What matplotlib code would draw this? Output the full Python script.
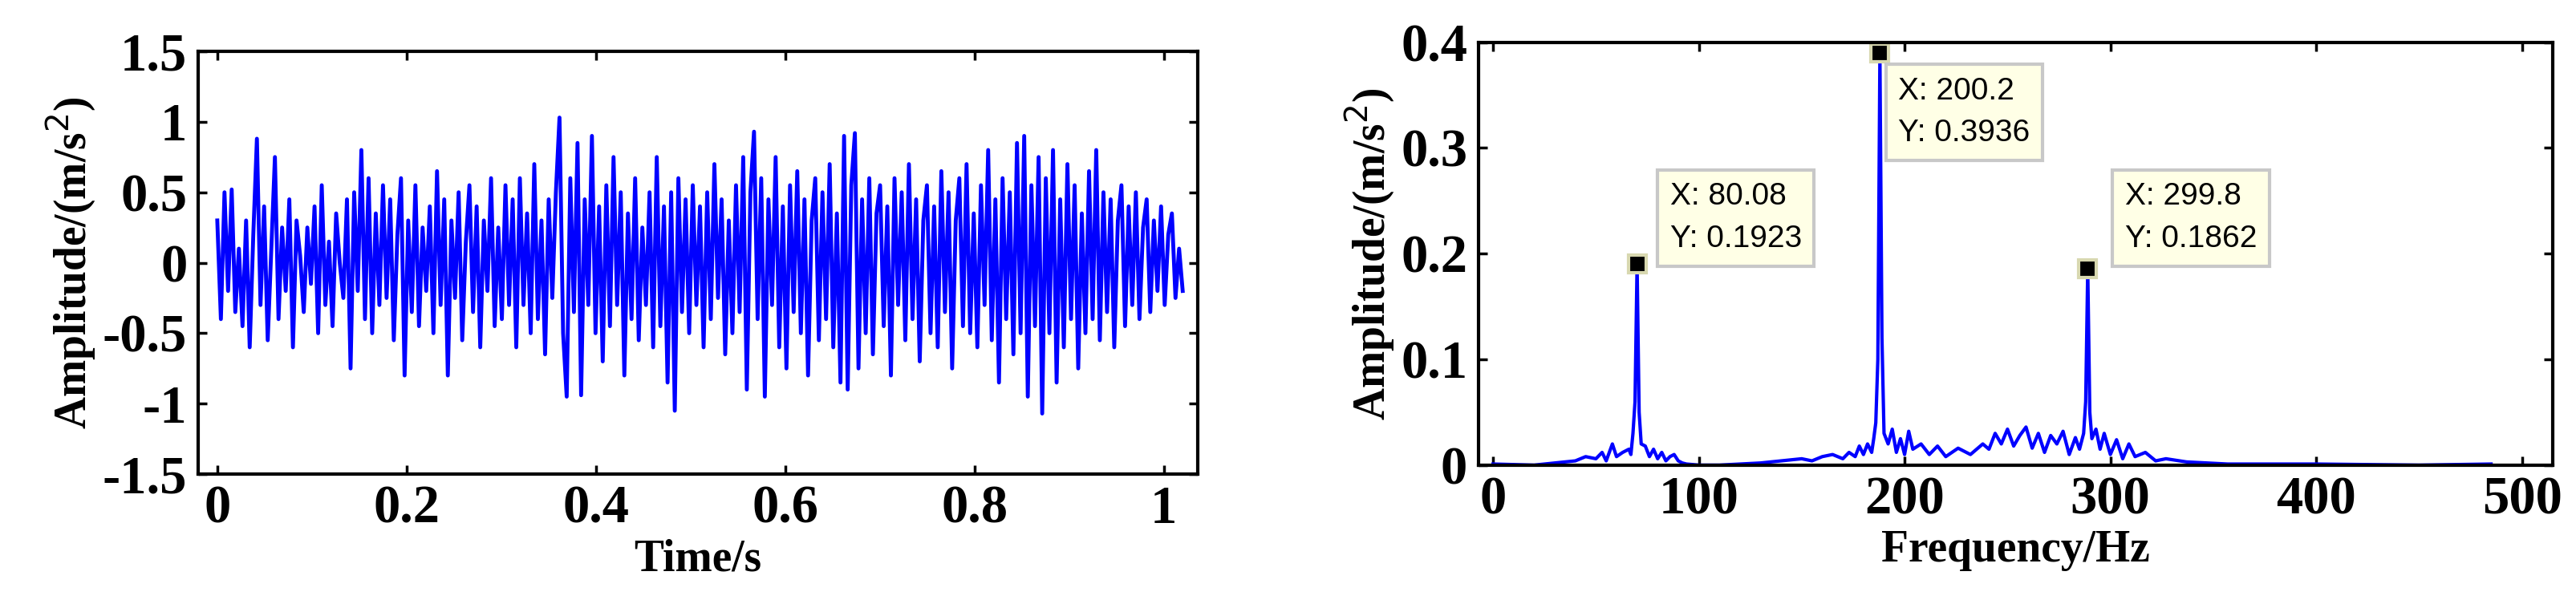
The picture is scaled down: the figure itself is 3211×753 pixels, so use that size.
import numpy as np
import matplotlib.pyplot as plt

# time-domain signal (300 samples over 0..1.02 s)
sig = [
 0.3, -0.4, 0.5, -0.2, 0.52, -0.35, 0.1, -0.45, 0.3, -0.6, 0.2, 0.88, -0.3, 0.4, -0.55, 0.1, 0.75, -0.4, 0.25, -0.2,
 0.45, -0.6, 0.3, 0.05, -0.35, 0.25, -0.15, 0.4, -0.5, 0.55, -0.3, 0.15, -0.45, 0.35, 0.0, -0.25, 0.45, -0.75, 0.5, -0.2,
 0.8, -0.4, 0.6, -0.5, 0.35, -0.3, 0.55, -0.25, 0.45, -0.55, 0.2, 0.6, -0.8, 0.3, -0.35, 0.55, -0.45, 0.25, -0.2, 0.4,
 -0.5, 0.65, -0.3, 0.45, -0.8, 0.3, -0.25, 0.5, -0.55, 0.15, 0.55, -0.35, 0.4, -0.6, 0.3, -0.2, 0.6, -0.45, 0.25, -0.4,
 0.55, -0.3, 0.45, -0.6, 0.6, -0.3, 0.35, -0.5, 0.7, -0.4, 0.3, -0.65, 0.45, -0.25, 0.5, 1.03, -0.5, -0.95, 0.6, -0.35,
 0.85, -0.94, 0.45, -0.3, 0.9, -0.5, 0.4, -0.7, 0.55, -0.45, 0.75, -0.3, 0.5, -0.8, 0.35, -0.4, 0.6, -0.55, 0.25, -0.3,
 0.5, -0.6, 0.75, -0.45, 0.4, -0.85, 0.5, -1.05, 0.6, -0.35, 0.45, -0.5, 0.55, -0.3, 0.4, -0.6, 0.5, -0.4, 0.7, -0.25,
 0.45, -0.65, 0.3, -0.5, 0.55, -0.35, 0.75, -0.9, 0.5, 0.93, -0.4, 0.6, -0.95, 0.45, -0.3, 0.75, -0.6, 0.4, -0.75, 0.55,
 -0.35, 0.65, -0.5, 0.45, -0.8, 0.3, 0.6, -0.55, 0.5, -0.4, 0.7, -0.6, 0.35, -0.85, 0.9, -0.9, 0.55, 0.92, -0.75, 0.45,
 -0.5, 0.6, -0.65, 0.35, 0.55, -0.45, 0.4, -0.8, 0.6, -0.3, 0.5, -0.55, 0.7, -0.4, 0.45, -0.7, 0.3, 0.55, -0.5, 0.4,
 -0.6, 0.65, -0.35, 0.5, -0.75, 0.3, 0.6, -0.45, 0.7, -0.5, 0.35, -0.6, 0.55, -0.3, 0.8, -0.55, 0.45, -0.85, 0.6, -0.4,
 0.5, -0.65, 0.85, -0.5, 0.9, -0.95, 0.55, -0.45, 0.75, -1.07, 0.6, -0.5, 0.8, -0.85, 0.45, -0.6, 0.7, -0.4, 0.55, -0.75,
 0.35, -0.5, 0.65, -0.4, 0.8, -0.55, 0.5, -0.35, 0.45, -0.6, 0.3, 0.55, -0.45, 0.4, -0.3, 0.5, -0.4, 0.25, 0.45, -0.35,
 0.3, -0.2, 0.4, -0.3, 0.2, 0.35, -0.25, 0.1, -0.2,
]
t = np.linspace(0, 1.02, len(sig))

# spectrum (axis Hz, amplitude m/s^2)
freq = [0, 20, 30, 40, 45, 50, 53, 55, 58, 60, 63, 66, 67, 68, 69, 70, 71, 72, 74, 76, 78, 80, 82, 84, 86, 88, 90, 92, 94, 100, 110,
        130, 140, 150, 155, 160, 165, 170, 173, 176, 178, 180, 182, 184, 185, 186, 187, 188, 189, 190, 192, 194, 196, 198, 200, 202, 204, 208, 212, 216,
        220, 226, 232, 238, 241, 244, 247, 250, 253, 256, 259, 262, 265, 268, 271, 274, 277, 280, 283, 285, 287, 288, 289, 290, 291, 293, 295, 297,
        300, 303, 306, 309, 312, 317, 322, 327, 337, 347, 357, 400, 450, 485]
amp = [0.001, 0.0, 0.002, 0.004, 0.008, 0.006, 0.012, 0.004, 0.02, 0.008, 0.012, 0.015, 0.01, 0.03, 0.06, 0.19, 0.05, 0.02, 0.018, 0.008, 0.015, 0.006, 0.012, 0.004, 0.008, 0.01, 0.004, 0.002, 0.001, 0.0, 0.0,
       0.002, 0.004, 0.006, 0.004, 0.008, 0.01, 0.006, 0.012, 0.008, 0.018, 0.01, 0.02, 0.012, 0.025, 0.04, 0.1, 0.39, 0.12, 0.03, 0.02, 0.034, 0.012, 0.025, 0.01, 0.032, 0.015, 0.02, 0.01, 0.018,
       0.008, 0.016, 0.01, 0.02, 0.015, 0.03, 0.02, 0.034, 0.018, 0.028, 0.036, 0.016, 0.03, 0.012, 0.028, 0.02, 0.032, 0.01, 0.026, 0.015, 0.03, 0.06, 0.186, 0.05, 0.025, 0.034, 0.015, 0.03,
       0.01, 0.024, 0.006, 0.02, 0.008, 0.012, 0.004, 0.006, 0.003, 0.002, 0.001, 0.001, 0.0, 0.001]

peaks_x = [70, 188, 289]
peaks_y = [0.19, 0.39, 0.186]
peak_text = ['X: 80.08\nY: 0.1923', 'X: 200.2\nY: 0.3936', 'X: 299.8\nY: 0.1862']
text_pos = [(86, 0.2), (197, 0.3), (307, 0.2)]

tick_font = dict(family='Liberation Serif', weight='bold', size=48)
label_font = dict(family='Liberation Serif', weight='bold', size=40)

fig = plt.figure(figsize=(32.11, 7.53), dpi=100)

ax1 = fig.add_axes([0.077, 0.215, 0.388, 0.70])
ax1.plot(t, sig, color='#0000ff', lw=3.5)
ax1.set_xlim(-0.02, 1.036)
ax1.set_ylim(-1.5, 1.5)
ax1.set_xticks([0, 0.2, 0.4, 0.6, 0.8, 1])
ax1.set_xticklabels(['0', '0.2', '0.4', '0.6', '0.8', '1'], **tick_font)
ax1.set_yticks([-1.5, -1, -0.5, 0, 0.5, 1, 1.5])
ax1.set_yticklabels(['-1.5', '-1', '-0.5', '0', '0.5', '1', '1.5'], **tick_font)
ax1.set_xlabel('Time/s', labelpad=4, **label_font)
ax1.set_ylabel('Amplitude/(m/s$^2$)', labelpad=4, **label_font)

ax2 = fig.add_axes([0.574, 0.23, 0.417, 0.70])
ax2.plot(freq, amp, color='#0000ff', lw=3)
ax2.set_xlim(-7, 515)
ax2.set_ylim(0, 0.4)
ax2.set_xticks([0, 100, 200, 300, 400, 500])
ax2.set_xticklabels(['0', '100', '200', '300', '400', '500'], **tick_font)
ax2.set_yticks([0, 0.1, 0.2, 0.3, 0.4])
ax2.set_yticklabels(['0', '0.1', '0.2', '0.3', '0.4'], **tick_font)
ax2.set_xlabel('Frequency/Hz', labelpad=4, **label_font)
ax2.set_ylabel('Amplitude/(m/s$^2$)', labelpad=4, **label_font)
ax2.plot(peaks_x, peaks_y, 's', color='black', ms=16, mec='#d8d8b0', mew=3, clip_on=False)
for (tx, ty), s in zip(text_pos, peak_text):
    ax2.text(tx, ty, s, family='Liberation Sans', size=28, va='bottom', ha='left', linespacing=1.6,
             bbox=dict(boxstyle='square,pad=0.4', fc='#ffffe6', ec='#c8c8c8', lw=3))

for ax in (ax1, ax2):
    for sp in ax.spines.values():
        sp.set_linewidth(3)
    ax.tick_params(direction='in', length=8, width=2.5, top=True, right=True, pad=10)

fig.savefig('out.png', dpi=100)
